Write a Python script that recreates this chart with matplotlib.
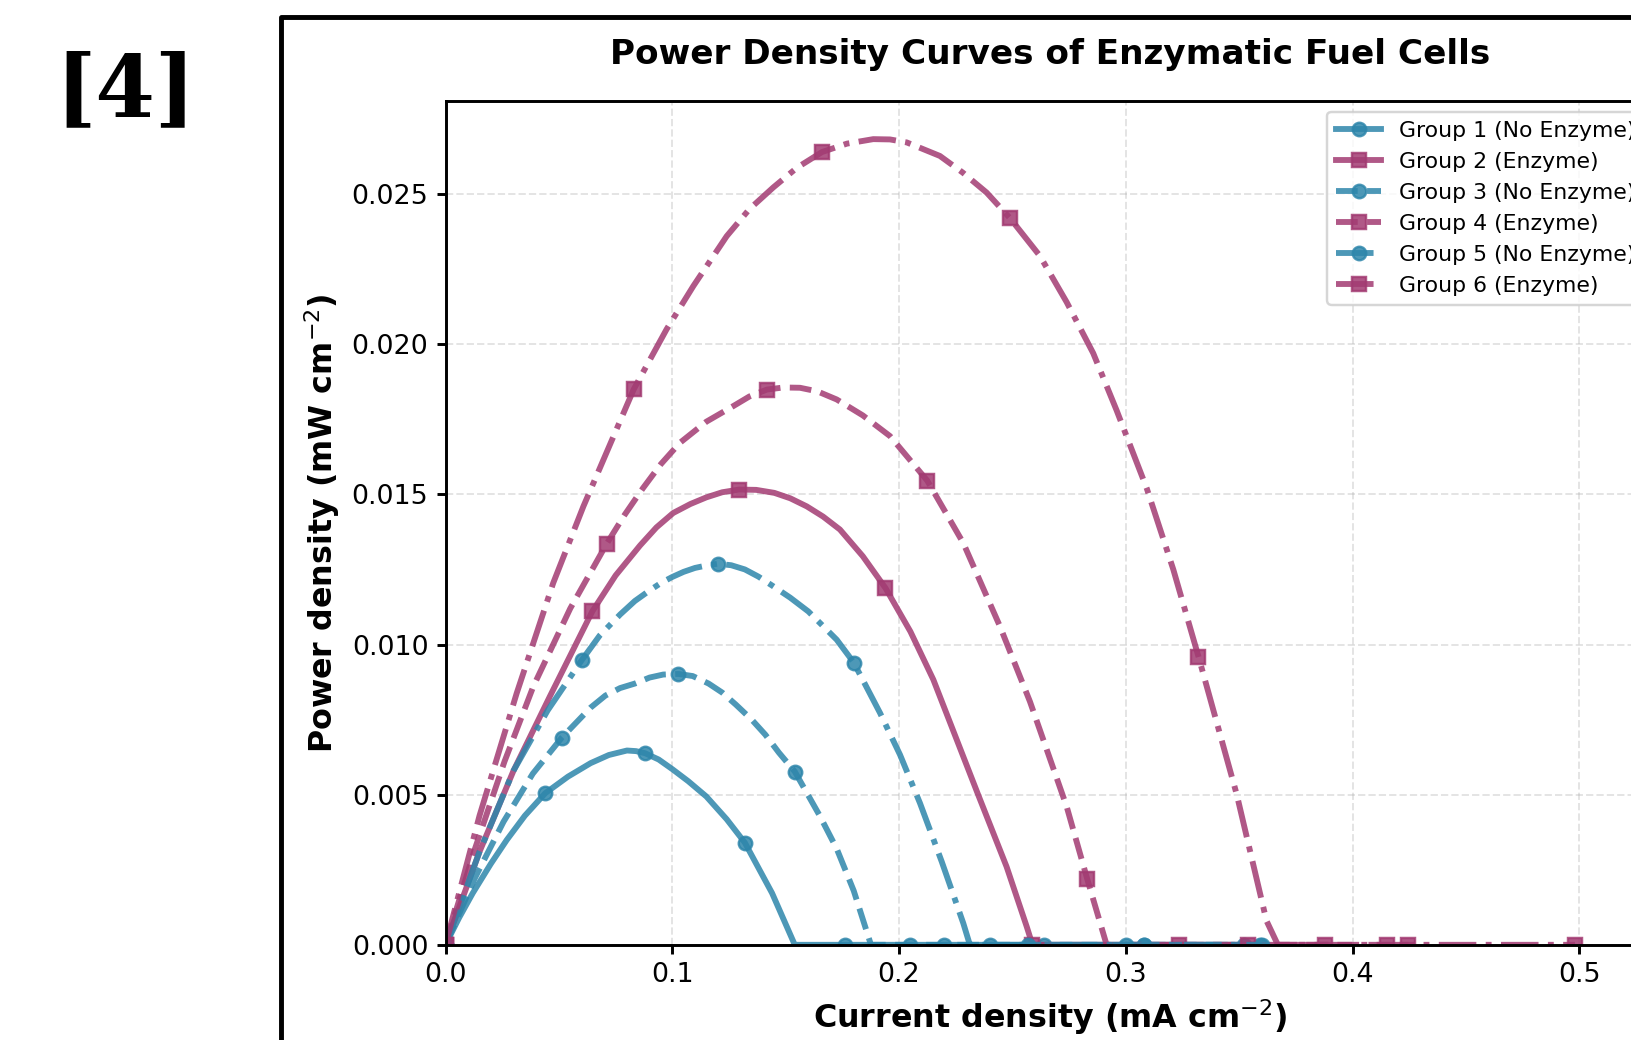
import numpy as np
import matplotlib
matplotlib.use("Agg")
import matplotlib.pyplot as plt
from matplotlib.patches import Rectangle

#----------
## Data (current density in mA cm-2, power density in mW cm-2)
#----------

g1_x = [0, 0.006, 0.012, 0.020, 0.027, 0.035, 0.044, 0.054, 0.064, 0.072, 0.080, 0.084, 0.088, 0.094,
        0.100, 0.107, 0.115, 0.124, 0.132, 0.144, 0.154, 0.176, 0.220, 0.264, 0.308, 0.352]
g1_y = [0, 0.00090, 0.00172, 0.00270, 0.00349, 0.00430, 0.00505, 0.00560, 0.00605, 0.00632, 0.00647,
        0.00645, 0.00638, 0.00617, 0.00585, 0.00545, 0.00494, 0.00418, 0.00340, 0.00172, 0,
        0, 0, 0, 0, 0]
g1_marks = [0, 0.044, 0.088, 0.132, 0.176, 0.220, 0.264, 0.308, 0.352]

g2_x = [0, 0.015, 0.030, 0.046, 0.0647, 0.075, 0.0858, 0.093, 0.1004, 0.108, 0.115, 0.122, 0.1294,
        0.137, 0.145, 0.152, 0.1593, 0.1665, 0.1739, 0.184, 0.194, 0.205, 0.2151, 0.2349, 0.2474,
        0.2563, 0.2588, 0.3235, 0.388]
g2_y = [0, 0.0031, 0.0058, 0.00827, 0.0111, 0.0123, 0.0133, 0.0139, 0.01438, 0.01468, 0.0149, 0.01507,
        0.01516, 0.01515, 0.01505, 0.01487, 0.0146, 0.01426, 0.01383, 0.01294, 0.01188, 0.01043,
        0.00883, 0.00499, 0.0026, 0.0006, 0, 0, 0]
g2_marks = [0, 0.0647, 0.1294, 0.194, 0.2588, 0.3235, 0.388]

g3_x = [0, 0.0128, 0.0256, 0.0385, 0.0513, 0.064, 0.0705, 0.077, 0.0835, 0.090, 0.096, 0.1027, 0.109,
        0.116, 0.122, 0.128, 0.135, 0.141, 0.147, 0.154, 0.165, 0.1725, 0.180, 0.1876, 0.205, 0.257,
        0.308, 0.359]
g3_y = [0, 0.0022, 0.0041, 0.0057, 0.0069, 0.0079, 0.0083, 0.00855, 0.0087, 0.0089, 0.0090, 0.00902,
        0.00895, 0.0087, 0.0084, 0.0080, 0.0075, 0.0070, 0.0064, 0.00577, 0.0043, 0.0032, 0.0018,
        0, 0, 0, 0, 0]
g3_marks = [0, 0.0513, 0.1027, 0.154, 0.205, 0.257, 0.308, 0.359]

g4_x = [0, 0.013, 0.026, 0.0387, 0.055, 0.0711, 0.079, 0.087, 0.095, 0.1034, 0.115, 0.1269, 0.134,
        0.1417, 0.149, 0.1563, 0.164, 0.1725, 0.184, 0.196, 0.2124, 0.2283, 0.2445, 0.2577, 0.2739,
        0.283, 0.2915, 0.354, 0.4246]
g4_y = [0, 0.0032, 0.0061, 0.0086, 0.0112, 0.01336, 0.01432, 0.0152, 0.01601, 0.01672, 0.01742,
        0.01794, 0.01826, 0.01849, 0.01856, 0.01855, 0.01843, 0.01816, 0.01763, 0.01694, 0.01546,
        0.01338, 0.0106, 0.0081, 0.0046, 0.00218, 0, 0, 0]
g4_marks = [0, 0.0711, 0.1417, 0.2124, 0.283, 0.354, 0.4246]

g5_x = [0, 0.015, 0.030, 0.045, 0.060, 0.068, 0.077, 0.0835, 0.090, 0.095, 0.100, 0.105, 0.110, 0.115,
        0.120, 0.126, 0.132, 0.138, 0.1445, 0.152, 0.160, 0.166, 0.1725, 0.180, 0.1916, 0.2004,
        0.2092, 0.2188, 0.2283, 0.2312, 0.240, 0.300, 0.360]
g5_y = [0, 0.0031, 0.0058, 0.0078, 0.00947, 0.0103, 0.0110, 0.01145, 0.0118, 0.01205, 0.01225,
        0.01242, 0.01255, 0.01263, 0.01269, 0.01264, 0.0125, 0.01226, 0.01194, 0.01156, 0.0111,
        0.01065, 0.01016, 0.0094, 0.00772, 0.00633, 0.00472, 0.00277, 0.00072, 0, 0, 0, 0]
g5_marks = [0, 0.060, 0.120, 0.180, 0.240, 0.300, 0.360]

g6_x = [0, 0.015, 0.0314, 0.0475, 0.0608, 0.083, 0.0975, 0.1093, 0.124, 0.134, 0.1445, 0.155, 0.166,
        0.177, 0.1886, 0.196, 0.2034, 0.218, 0.228, 0.2386, 0.249, 0.2621, 0.2739, 0.2856, 0.2959,
        0.3092, 0.3209, 0.332, 0.3489, 0.362, 0.367, 0.415, 0.498]
g6_y = [0, 0.0043, 0.00838, 0.01205, 0.0146, 0.0185, 0.0205, 0.02194, 0.0236, 0.0245, 0.02522,
        0.02588, 0.0264, 0.02668, 0.02683, 0.02682, 0.02672, 0.02627, 0.02572, 0.02505, 0.02419,
        0.02294, 0.0214, 0.0197, 0.0178, 0.0152, 0.0125, 0.0096, 0.0050, 0.0008, 0, 0, 0]
g6_marks = [0, 0.083, 0.166, 0.249, 0.332, 0.415, 0.498]

labels = ["Group 1 (No Enzyme)", "Group 2 (Enzyme)", "Group 3 (No Enzyme)",
          "Group 4 (Enzyme)", "Group 5 (No Enzyme)", "Group 6 (Enzyme)"]

blue = "#2E86AB"
pink = "#A23B72"

groups = [
    (g1_x, g1_y, g1_marks, blue, "-", "o"),
    (g2_x, g2_y, g2_marks, pink, "-", "s"),
    (g3_x, g3_y, g3_marks, blue, "--", "o"),
    (g4_x, g4_y, g4_marks, pink, "--", "s"),
    (g5_x, g5_y, g5_marks, blue, "-.", "o"),
    (g6_x, g6_y, g6_marks, pink, "-.", "s"),
]

#----------
## Figure: the chart sits in a black panel frame that runs off the page
#----------

W, H, DPI = 1631, 1040, 176
fig = plt.figure(figsize = (W / DPI, H / DPI), dpi = DPI)

fig.add_artist(Rectangle(
    (281.2 / W, -0.5), 2, 1 - 16.7 / H + 0.5,
    transform = fig.transFigure, fill = False,
    lw = 2, edgecolor = "black", joinstyle = "round"
))
fig.text(126 / W, 1 - 92 / H, "[4]", fontsize = 35, fontweight = "bold",
         family = "DejaVu Serif", ha = "center", va = "center")

ax = fig.add_axes([445.5 / W, (H - 944.8) / H, (1655 - 445.5) / W, (944.8 - 101) / H])

for label, (x, y, marks, color, ls, marker) in zip(labels, groups):
    idx = np.flatnonzero(np.isin(x, marks))
    ax.plot(
        x, y,
        color = color,
        linestyle = ls,
        marker = marker,
        markevery = list(idx),
        linewidth = 2.4,
        markersize = 5.5,
        alpha = 0.85,
        label = label
    )

ax.set_xlim(0, 0.5333)
ax.set_ylim(0, 0.0281)
ax.set_xticks([0, 0.1, 0.2, 0.3, 0.4, 0.5])

ax.set_title("Power Density Curves of Enzymatic Fuel Cells", fontsize = 14,
             fontweight = "bold", pad = 15)
ax.set_xlabel("Current density (mA cm$^{-2}$)", fontsize = 13, fontweight = "bold")
ax.set_ylabel("Power density (mW cm$^{-2}$)", fontsize = 13, fontweight = "bold")

ax.grid(True, linestyle = "--", alpha = 0.35)
ax.set_axisbelow(True)
for s in ax.spines.values():
    s.set_linewidth(1.2)
ax.tick_params(labelsize = 11, width = 1.2)

ax.legend(loc = "upper right", fontsize = 9, handlelength = 2.05)

fig.savefig("out.png", dpi = DPI)
